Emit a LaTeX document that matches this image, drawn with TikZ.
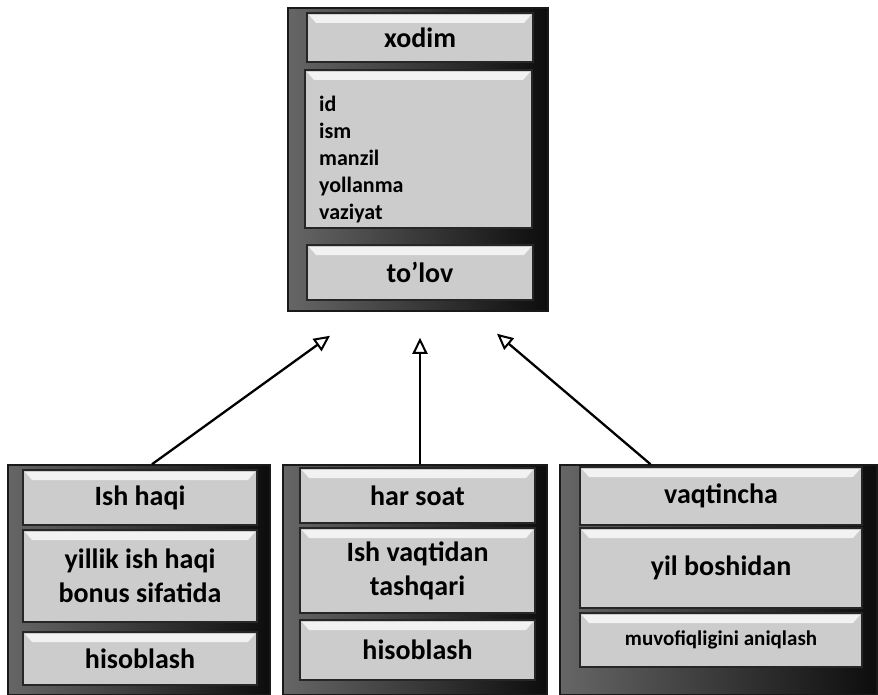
\documentclass[tikz,border=0pt]{standalone}
\usepackage{fontspec}
\setmainfont{Carlito}
\usetikzlibrary{arrows.meta,positioning}

\begin{document}
\begin{tikzpicture}[x=1pt,y=-1pt,
  frame/.style={draw=black!90,line width=1.5pt,left color=black!60,right color=black!95,inner sep=0pt},
  panel/.style={draw=black!85,line width=1.2pt,fill=gray!40,inner sep=0pt,align=center,
    font=\fontsize{28}{34}\selectfont\bfseries,
    path picture={\fill[white!90!gray] ([xshift=2pt,yshift=-2pt]path picture bounding box.north west)
      -- ([xshift=-2pt,yshift=-2pt]path picture bounding box.north east)
      -- ([xshift=-9pt,yshift=-10pt]path picture bounding box.north east)
      -- ([xshift=9pt,yshift=-10pt]path picture bounding box.north west) -- cycle;}},
  attr/.style={align=left,inner sep=0pt,font=\fontsize{22}{27}\selectfont\bfseries},
  gen/.style={line width=2.3pt,-{Triangle[open,length=16pt,width=15pt,line width=2pt]}}]
\useasboundingbox (0,0) rectangle (878,695);
% base class
\node[frame,minimum width=260pt,minimum height=303pt] (xodim) at (418,159.5) {};
\node[panel,minimum width=226pt,minimum height=49pt] (xname) at (420,37.5) {xodim};
\node[panel,minimum width=227pt,minimum height=158pt] (xattr) at (418.5,149) {};
\node[attr,anchor=north west] (xlist) at (319,96) {id\\ism\\manzil\\yollanma\\vaziyat};
\node[panel,minimum width=226pt,minimum height=55pt] (xop) at (420,272.5) {to'lov};
% subclasses
\node[frame,minimum width=262pt,minimum height=230pt] (ishhaqi) at (139,580) {};
\node[panel,minimum width=234pt,minimum height=55pt] (ihname) at (140,497.5) {Ish haqi};
\node[panel,minimum width=234pt,minimum height=92pt] (ihattr) at (140,576) {yillik ish haqi\\bonus sifatida};
\node[panel,minimum width=234pt,minimum height=53pt] (ihop) at (140,658.5) {hisoblash};
\node[frame,minimum width=264pt,minimum height=230pt] (harsoat) at (415,580) {};
\node[panel,minimum width=235pt,minimum height=55pt] (hsname) at (417.5,495.5) {har soat};
\node[panel,minimum width=235pt,minimum height=85pt] (hsattr) at (417.5,570.5) {Ish vaqtidan\\tashqari};
\node[panel,minimum width=235pt,minimum height=60pt] (hsop) at (417.5,650) {hisoblash};
\node[frame,minimum width=317pt,minimum height=230pt] (vaqtincha) at (718.5,580) {};
\node[panel,minimum width=282pt,minimum height=58pt] (vqname) at (721,496) {vaqtincha};
\node[panel,minimum width=282pt,minimum height=80pt] (vqattr) at (721,568) {yil boshidan};
\node[panel,minimum width=282pt,minimum height=54pt,font=\fontsize{21}{25}\selectfont\bfseries] (vqop) at (721,640) {muvofiqligini aniqlash};
% generalisation
\coordinate (h1) at ([xshift=-88pt,yshift=-24pt]xodim.south);
\coordinate (h2) at ([xshift=2pt,yshift=-26pt]xodim.south);
\coordinate (h3) at ([xshift=79pt,yshift=-22pt]xodim.south);
\draw[gen] ([xshift=13pt]ishhaqi.north) -- (h1);
\draw[gen] ([xshift=5pt]harsoat.north) -- (h2);
\draw[gen] ([xshift=-68pt]vaqtincha.north) -- (h3);
\end{tikzpicture}
\end{document}
